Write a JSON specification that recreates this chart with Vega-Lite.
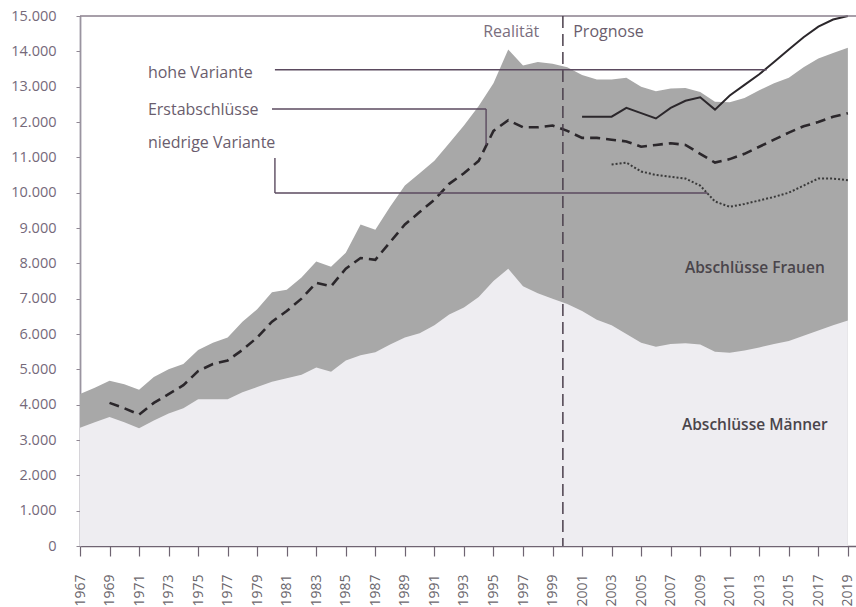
{
  "$schema": "https://vega.github.io/schema/vega-lite/v6.json",
  "width": 776,
  "height": 530,
  "autosize": {"type": "none"},
  "padding": {"left": 80, "top": 16, "right": 0, "bottom": 61},
  "background": "white",
  "config": {
    "view": {"stroke": null},
    "font": "Open Sans",
    "axis": {
      "grid": false,
      "labelFont": "Open Sans",
      "labelColor": "#6e6371",
      "labelOverlap": false,
      "labelFlush": false,
      "labelSeparation": 0,
      "domainColor": "#9a94a0",
      "tickColor": "#8f8792",
      "title": null
    }
  },
  "resolve": {"axis": {"x": "independent", "y": "independent"}},
  "datasets": {
    "werte": [
      {"jahr": 1967, "maenner": 3350, "gesamt": 4300},
      {"jahr": 1968, "maenner": 3500, "gesamt": 4480},
      {"jahr": 1969, "maenner": 3650, "gesamt": 4680, "erst": 4050},
      {"jahr": 1970, "maenner": 3500, "gesamt": 4580, "erst": 3900},
      {"jahr": 1971, "maenner": 3330, "gesamt": 4420, "erst": 3720},
      {"jahr": 1972, "maenner": 3550, "gesamt": 4780, "erst": 4050},
      {"jahr": 1973, "maenner": 3750, "gesamt": 5000, "erst": 4300},
      {"jahr": 1974, "maenner": 3900, "gesamt": 5150, "erst": 4550},
      {"jahr": 1975, "maenner": 4150, "gesamt": 5550, "erst": 4950},
      {"jahr": 1976, "maenner": 4150, "gesamt": 5750, "erst": 5150},
      {"jahr": 1977, "maenner": 4150, "gesamt": 5900, "erst": 5250},
      {"jahr": 1978, "maenner": 4350, "gesamt": 6350, "erst": 5550},
      {"jahr": 1979, "maenner": 4500, "gesamt": 6700, "erst": 5900},
      {"jahr": 1980, "maenner": 4650, "gesamt": 7180, "erst": 6350},
      {"jahr": 1981, "maenner": 4750, "gesamt": 7250, "erst": 6650},
      {"jahr": 1982, "maenner": 4850, "gesamt": 7600, "erst": 7000},
      {"jahr": 1983, "maenner": 5050, "gesamt": 8050, "erst": 7450},
      {"jahr": 1984, "maenner": 4930, "gesamt": 7900, "erst": 7350},
      {"jahr": 1985, "maenner": 5250, "gesamt": 8300, "erst": 7850},
      {"jahr": 1986, "maenner": 5400, "gesamt": 9100, "erst": 8150},
      {"jahr": 1987, "maenner": 5480, "gesamt": 8950, "erst": 8100},
      {"jahr": 1988, "maenner": 5700, "gesamt": 9600, "erst": 8600},
      {"jahr": 1989, "maenner": 5900, "gesamt": 10200, "erst": 9100},
      {"jahr": 1990, "maenner": 6020, "gesamt": 10550, "erst": 9450},
      {"jahr": 1991, "maenner": 6250, "gesamt": 10900, "erst": 9800},
      {"jahr": 1992, "maenner": 6550, "gesamt": 11400, "erst": 10250},
      {"jahr": 1993, "maenner": 6750, "gesamt": 11900, "erst": 10550},
      {"jahr": 1994, "maenner": 7050, "gesamt": 12450, "erst": 10900},
      {"jahr": 1995, "maenner": 7500, "gesamt": 13100, "erst": 11750},
      {"jahr": 1996, "maenner": 7850, "gesamt": 14050, "erst": 12050},
      {"jahr": 1997, "maenner": 7350, "gesamt": 13600, "erst": 11850},
      {"jahr": 1998, "maenner": 7150, "gesamt": 13700, "erst": 11850},
      {"jahr": 1999, "maenner": 7000, "gesamt": 13650, "erst": 11900},
      {"jahr": 2000, "maenner": 6850, "gesamt": 13550, "erst": 11750},
      {"jahr": 2001, "maenner": 6650, "gesamt": 13330, "erst": 11550, "hoch": 12150},
      {"jahr": 2002, "maenner": 6400, "gesamt": 13200, "erst": 11550, "hoch": 12150},
      {"jahr": 2003, "maenner": 6250, "gesamt": 13200, "erst": 11500, "hoch": 12150, "niedrig": 10800},
      {"jahr": 2004, "maenner": 6000, "gesamt": 13250, "erst": 11450, "hoch": 12400, "niedrig": 10850},
      {"jahr": 2005, "maenner": 5750, "gesamt": 13000, "erst": 11300, "hoch": 12250, "niedrig": 10600},
      {"jahr": 2006, "maenner": 5640, "gesamt": 12870, "erst": 11350, "hoch": 12100, "niedrig": 10500},
      {"jahr": 2007, "maenner": 5720, "gesamt": 12950, "erst": 11400, "hoch": 12400, "niedrig": 10450},
      {"jahr": 2008, "maenner": 5740, "gesamt": 12960, "erst": 11350, "hoch": 12600, "niedrig": 10400},
      {"jahr": 2009, "maenner": 5700, "gesamt": 12850, "erst": 11100, "hoch": 12700, "niedrig": 10200},
      {"jahr": 2010, "maenner": 5500, "gesamt": 12570, "erst": 10850, "hoch": 12350, "niedrig": 9750},
      {"jahr": 2011, "maenner": 5470, "gesamt": 12560, "erst": 10950, "hoch": 12750, "niedrig": 9600},
      {"jahr": 2012, "maenner": 5530, "gesamt": 12680, "erst": 11100, "hoch": 13050, "niedrig": 9680},
      {"jahr": 2013, "maenner": 5620, "gesamt": 12900, "erst": 11300, "hoch": 13350, "niedrig": 9780},
      {"jahr": 2014, "maenner": 5720, "gesamt": 13100, "erst": 11500, "hoch": 13700, "niedrig": 9880},
      {"jahr": 2015, "maenner": 5800, "gesamt": 13250, "erst": 11700, "hoch": 14050, "niedrig": 10000},
      {"jahr": 2016, "maenner": 5950, "gesamt": 13550, "erst": 11880, "hoch": 14400, "niedrig": 10200},
      {"jahr": 2017, "maenner": 6100, "gesamt": 13800, "erst": 12000, "hoch": 14700, "niedrig": 10400},
      {"jahr": 2018, "maenner": 6250, "gesamt": 13950, "erst": 12150, "hoch": 14900, "niedrig": 10400},
      {"jahr": 2019, "maenner": 6380, "gesamt": 14100, "erst": 12250, "hoch": 15000, "niedrig": 10350}
    ],
    "linien": [
      {"jahr": 1980.2, "jahr2": 2013.5, "wert": 13480, "wert2": 13480},
      {"jahr": 1980.0, "jahr2": 1994.5, "wert": 12370, "wert2": 12370},
      {"jahr": 1994.5, "jahr2": 1994.5, "wert": 12370, "wert2": 11350},
      {"jahr": 1980.2, "jahr2": 1980.2, "wert": 10980, "wert2": 9990},
      {"jahr": 1980.2, "jahr2": 2009.5, "wert": 9990, "wert2": 9990}
    ],
    "links": [
      {"jahr": 1971.6, "wert": 13380, "text": "hohe Variante"},
      {"jahr": 1971.6, "wert": 12340, "text": "Erstabschlüsse"},
      {"jahr": 1971.6, "wert": 11400, "text": "niedrige Variante"},
      {"jahr": 2000.4, "wert": 14550, "text": "Prognose"}
    ],
    "rechts": [
      {"jahr": 1998.1, "wert": 14550, "text": "Realität"}
    ],
    "mitte": [
      {"jahr": 2012.7, "wert": 7870, "text": "Abschlüsse Frauen"},
      {"jahr": 2012.7, "wert": 3420, "text": "Abschlüsse Männer"}
    ],
    "grenze": [{"jahr": 1999.7}],
    "oben": [{"wert": 15000}]
  },
  "layer": [
    {
      "data": {"name": "werte"},
      "mark": {"type": "area", "color": "#a8a8a8"},
      "encoding": {
        "x": {"field": "jahr", "type": "quantitative", "scale": {"domain": [1967, 2019.55], "nice": false, "zero": false},
          "axis": {"values": [1967,1969,1971,1973,1975,1977,1979,1981,1983,1985,1987,1989,1991,1993,1995,1997,1999,2001,2003,2005,2007,2009,2011,2013,2015,2017,2019],
            "labelOverlap": false, "format": "d", "labelAngle": 270, "tickSize": 10, "labelPadding": 18, "domainWidth": 1.5, "domainColor": "#6f6472", "tickColor": "#6f6472", "tickWidth": 1.2, "labelFontSize": 14, "labelColor": "#6a666c"}},
        "y": {"field": "gesamt", "type": "quantitative", "scale": {"domain": [0, 15000], "nice": false},
          "axis": {"values": [0,1000,2000,3000,4000,5000,6000,7000,8000,9000,10000,11000,12000,13000,14000,15000],
            "labelOverlap": false, "labelExpr": "replace(format(datum.value, ','), ',', '.')", "tickSize": 4, "labelPadding": 20, "domainWidth": 1.8, "labelFontSize": 14.5, "labelColor": "#75697a"}}
      }
    },
    {
      "data": {"name": "werte"},
      "mark": {"type": "area", "color": "#eeedf1"},
      "encoding": {
        "x": {"field": "jahr", "type": "quantitative", "axis": null},
        "y": {"field": "maenner", "type": "quantitative", "axis": null}
      }
    },
    {
      "data": {"name": "werte"},
      "mark": {"type": "line", "color": "#2b272b", "strokeWidth": 2.6, "strokeDash": [10, 6]},
      "encoding": {
        "x": {"field": "jahr", "type": "quantitative", "axis": null},
        "y": {"field": "erst", "type": "quantitative", "axis": null}
      }
    },
    {
      "data": {"name": "werte"},
      "mark": {"type": "line", "color": "#2b272b", "strokeWidth": 2},
      "encoding": {
        "x": {"field": "jahr", "type": "quantitative", "axis": null},
        "y": {"field": "hoch", "type": "quantitative", "axis": null}
      }
    },
    {
      "data": {"name": "werte"},
      "mark": {"type": "line", "color": "#3a3a3a", "strokeWidth": 2, "strokeDash": [2, 2]},
      "encoding": {
        "x": {"field": "jahr", "type": "quantitative", "axis": null},
        "y": {"field": "niedrig", "type": "quantitative", "axis": null}
      }
    },
    {
      "data": {"name": "oben"},
      "mark": {"type": "rule", "color": "#8a7f8d", "strokeWidth": 1.5},
      "encoding": {
        "y": {"field": "wert", "type": "quantitative", "axis": null}
      }
    },
    {
      "data": {"name": "grenze"},
      "mark": {"type": "rule", "color": "#4a3f4c", "strokeWidth": 1.5, "strokeDash": [12, 6]},
      "encoding": {
        "x": {"field": "jahr", "type": "quantitative", "axis": null}
      }
    },
    {
      "data": {"name": "linien"},
      "mark": {"type": "rule", "color": "#5b4a5f", "strokeWidth": 1.4},
      "encoding": {
        "x": {"field": "jahr", "type": "quantitative", "axis": null},
        "x2": {"field": "jahr2"},
        "y": {"field": "wert", "type": "quantitative", "axis": null},
        "y2": {"field": "wert2"}
      }
    },
    {
      "data": {"name": "links"},
      "mark": {"type": "text", "align": "left", "baseline": "middle", "fontSize": 16, "color": "#6a5d6d"},
      "encoding": {
        "x": {"field": "jahr", "type": "quantitative", "axis": null},
        "y": {"field": "wert", "type": "quantitative", "axis": null},
        "text": {"field": "text"}
      }
    },
    {
      "data": {"name": "rechts"},
      "mark": {"type": "text", "align": "right", "baseline": "middle", "fontSize": 16, "color": "#7a6e7d"},
      "encoding": {
        "x": {"field": "jahr", "type": "quantitative", "axis": null},
        "y": {"field": "wert", "type": "quantitative", "axis": null},
        "text": {"field": "text"}
      }
    },
    {
      "data": {"name": "mitte"},
      "mark": {"type": "text", "align": "center", "baseline": "middle", "fontSize": 15.5, "fontWeight": 600, "color": "#4a454b"},
      "encoding": {
        "x": {"field": "jahr", "type": "quantitative", "axis": null},
        "y": {"field": "wert", "type": "quantitative", "axis": null},
        "text": {"field": "text"}
      }
    }
  ]
}
